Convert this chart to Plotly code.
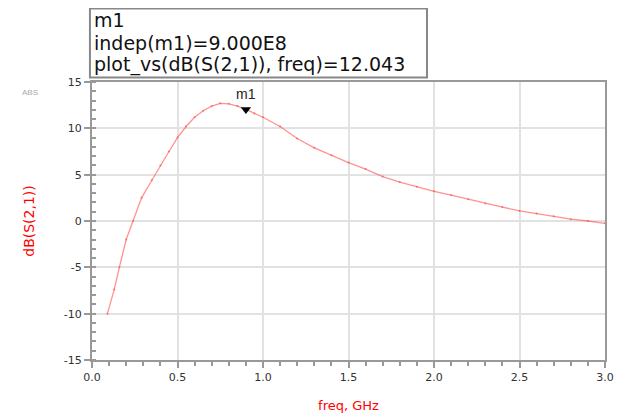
import plotly.graph_objects as go

freq_ghz = [0.09, 0.13, 0.16, 0.20, 0.24, 0.29, 0.35, 0.40, 0.45, 0.50, 0.55, 0.60, 0.65, 0.70,
            0.75, 0.80, 0.85, 0.90, 0.95, 1.00, 1.10, 1.20, 1.30, 1.40, 1.50, 1.60, 1.70, 1.80,
            1.90, 2.00, 2.10, 2.20, 2.30, 2.40, 2.50, 2.60, 2.70, 2.80, 2.90, 3.00]
s21_db = [-10.0, -7.4, -5.0, -2.0, 0.0, 2.5, 4.4, 6.0, 7.5, 9.0, 10.2, 11.2, 11.9, 12.4,
          12.7, 12.65, 12.4, 12.043, 11.6, 11.2, 10.2, 8.9, 7.9, 7.1, 6.3, 5.6, 4.8, 4.2,
          3.7, 3.2, 2.8, 2.35, 1.9, 1.5, 1.1, 0.8, 0.5, 0.2, 0.0, -0.25]

marker_freq = [0.9]
marker_val = [12.043]
marker_lines = ["m1", "indep(m1)=9.000E8", "plot_vs(dB(S(2,1)), freq)=12.043"]

x_ticks = [0.0, 0.5, 1.0, 1.5, 2.0, 2.5, 3.0]
x_tick_labels = ["0.0", "0.5", "1.0", "1.5", "2.0", "2.5", "3.0"]
y_ticks = [-15, -10, -5, 0, 5, 10, 15]
y_tick_labels = ["-15", "-10", "-5", "0", "5", "10", "15"]

fig = go.Figure()
fig.add_trace(go.Scatter(
    x=freq_ghz, y=s21_db, mode="lines+markers",
    line=dict(color="rgba(255,100,100,0.7)", width=1.3),
    marker=dict(size=2, color="rgba(255,90,90,0.8)"),
    showlegend=False, hoverinfo="skip", cliponaxis=False))

fig.add_trace(go.Scatter(
    x=marker_freq, y=marker_val, mode="markers",
    marker=dict(symbol="triangle-down", size=9, color="black"),
    showlegend=False, hoverinfo="skip"))
for f, v in zip(marker_freq, marker_val):
    fig.add_annotation(x=f, y=v, text="m1", showarrow=False, yanchor="bottom",
                       font=dict(size=14, color="#222", family="Liberation Sans"), yshift=5)

# marker readout box
fig.add_shape(type="rect", xref="paper", yref="paper", x0=-0.004, x1=0.653, y0=1.016, y1=1.264,
              line=dict(color="#888", width=2), fillcolor="white", layer="above")
for i, line_text in enumerate(marker_lines):
    fig.add_annotation(xref="paper", yref="paper", x=0.0, y=1.222 - i * 0.080,
                       xanchor="left", yanchor="middle", text=line_text, showarrow=False,
                       font=dict(size=19, color="#111", family="DejaVu Sans"))

fig.add_annotation(xref="paper", yref="paper", x=-0.121, y=0.964, xanchor="center", yanchor="middle",
                   text="ABS", showarrow=False,
                   font=dict(size=8, color="#aaa", family="Liberation Sans"))

axis_common = dict(showline=True, linecolor="#999", linewidth=2, mirror=True, automargin=False,
                   showgrid=True, gridcolor="#e2e2e2", gridwidth=1.5, zeroline=False,
                   ticks="outside", ticklen=6, tickcolor="#999", tickwidth=1.5,
                   tickfont=dict(size=11, color="#333", family="DejaVu Sans"))

fig.update_xaxes(range=[0, 3.0], tickvals=x_ticks, ticktext=x_tick_labels,
                 minor=dict(dtick=0.1, ticks="outside", ticklen=4, tickcolor="#999", showgrid=False),
                 title=dict(text="freq, GHz", font=dict(size=13, color="red", family="DejaVu Sans"),
                            standoff=18),
                 **axis_common)
fig.update_yaxes(range=[-15, 15], tickvals=y_ticks, ticktext=y_tick_labels,
                 minor=dict(dtick=1, ticks="inside", ticklen=4, tickcolor="#999", showgrid=False),
                 title=dict(text="dB(S(2,1))", font=dict(size=14, color="red", family="DejaVu Sans"),
                            standoff=26),
                 **axis_common)

fig.update_layout(width=614, height=408, margin=dict(l=84, r=17, t=74, b=56),
                  paper_bgcolor="white", plot_bgcolor="white")

fig.write_html("out.html")
